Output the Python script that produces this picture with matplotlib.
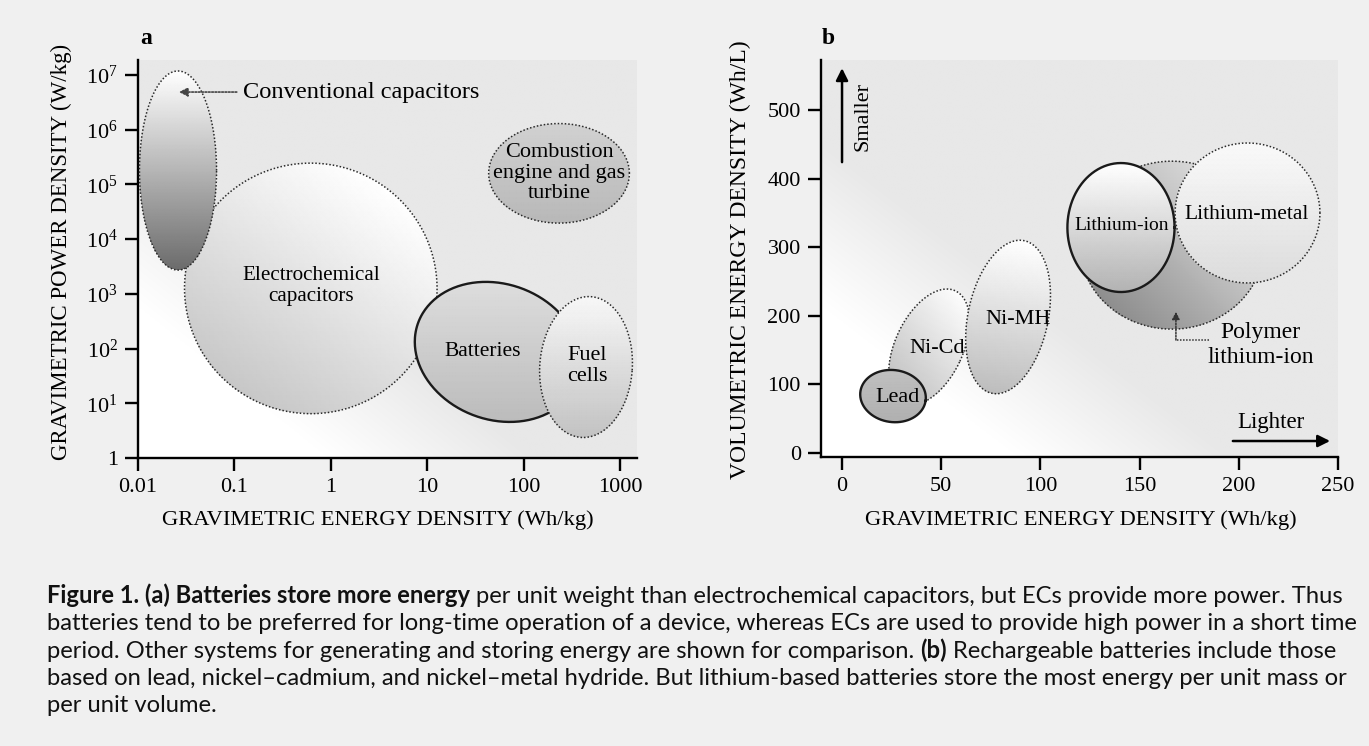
import numpy as np
import matplotlib
matplotlib.use("Agg")
import matplotlib.pyplot as plt
from matplotlib.patches import Polygon
from matplotlib.colors import LinearSegmentedColormap

W, H = 1369, 746
SERIF = ["Liberation Serif", "DejaVu Serif"]
SANS = ["Lato", "DejaVu Sans"]

# ---------------- (a) Ragone plot ----------------
# region centre (Wh/kg, W/kg), half spans in decades, tilt in degrees
a_names = ["Electrochemical\ncapacitors", "Conventional capacitors",
           "Combustion\nengine and gas\nturbine", "Batteries", "Fuel\ncells"]
a_energy = [0.62, 0.026, 233, 54, 444]
a_power = [1.26e3, 1.8e5, 1.6e5, 87, 46]
a_energy_span = [1.31, 0.40, 0.73, 0.88, 0.48]
a_power_span = [2.29, 1.82, 0.91, 1.24, 1.29]
a_tilt = [-4, 0, 0, -20, -4]
a_label_e = [0.62, 0.123, 233, 38, 455]
a_label_p = [1.38e3, 4.9e6, 1.62e5, 87, 48]

a_xticks = [0.01, 0.1, 1, 10, 100, 1000]
a_xticklabels = ["0.01", "0.1", "1", "10", "100", "1000"]
a_yticks = [1, 1e1, 1e2, 1e3, 1e4, 1e5, 1e6, 1e7]
a_yticklabels = ["1"] + [r"$\mathregular{10^{%d}}$" % k for k in range(1, 8)]

# ---------------- (b) rechargeable batteries ----------------
b_names = ["Ni-Cd", "Lead", "Ni-MH", "Polymer\nlithium-ion", "Lithium-metal", "Lithium-ion"]
b_mass = [43.9, 25.7, 83.7, 166.3, 204.4, 140.6]
b_volume = [154.5, 83, 198.3, 303, 349.9, 328.7]
b_mass_span = [17.1, 16.6, 20.2, 46.4, 36.5, 27]
b_volume_span = [90.4, 37.9, 113.7, 122.4, 102, 94]
b_tilt = [-25, -8, -12, 0, 0, 0]
b_label_x = [47.9, 28, 88.7, 211, 204, 141]
b_label_y = [153, 81.6, 194, 157.4, 347, 331]
b_xticks = [0, 50, 100, 150, 200, 250]
b_yticks = [0, 100, 200, 300, 400, 500]

# styles: (light grey, dark grey, direction of light side, edge, label size, line spacing)
a_style = [(1.0, 0.78, 55, ":", 15.2, 1.13), (1.0, 0.42, 90, ":", 17.6, 1.0),
           (0.84, 0.7, 90, ":", 16, 1.13), (0.88, 0.72, 90, "-", 15.5, 1.0),
           (0.97, 0.76, 90, ":", 16, 1.13)]
b_style = [(1.0, 0.74, 40, ":", 16, 1.0), (0.76, 0.68, 90, "-", 16, 1.0),
           (1.0, 0.74, 80, ":", 16, 1.0), (0.88, 0.55, 45, ":", 17, 1.3),
           (0.98, 0.86, 90, ":", 15.5, 1.0), (1.0, 0.7, 90, "-", 14, 1.0)]

BG = "#f0f0f0"
fig = plt.figure(figsize=(W / 100, H / 100), dpi=100, facecolor=BG)


def rect(l, b, r, t):
    return [l / W, 1 - b / H, (r - l) / W, (b - t) / H]


bg_cmap = LinearSegmentedColormap.from_list("bg", ["#ffffff", "#e8e8e8"])


def make_axes(r):
    back = fig.add_axes(r, zorder=0)
    u, v = np.meshgrid(np.linspace(0, 1, 300), np.linspace(0, 1, 300))
    s = np.clip((u + v - 0.38) / 0.42, 0, 1)
    back.imshow(s, cmap=bg_cmap, extent=(0, 1, 0, 1), origin="lower", aspect="auto",
                interpolation="bilinear", vmin=0, vmax=1)
    back.axis("off")
    ax = fig.add_axes(r, zorder=1)
    ax.set_facecolor("none")
    for sp in ["top", "right"]:
        ax.spines[sp].set_visible(False)
    for sp in ["left", "bottom"]:
        ax.spines[sp].set_linewidth(1.7)
    ax.tick_params(direction="out", length=9.5, width=1.7, labelsize=16, pad=5)
    ax.minorticks_off()
    return ax


def blob(ax, cx, cy, rx, ry, tilt, style, z, log=False):
    light, dark, face_dir, ls = style[:4]
    x0, x1 = ax.get_xlim()
    y0, y1 = ax.get_ylim()
    if log:
        x0, x1, y0, y1 = np.log10([x0, x1, y0, y1])
        cx, cy = np.log10(cx), np.log10(cy)
    pos = ax.get_position()
    kx = pos.width * W / (x1 - x0)
    ky = pos.height * H / (y1 - y0)
    a, b = rx * kx, ry * ky
    th = np.radians(tilt)
    t = np.linspace(0, 2 * np.pi, 300)
    px = a * np.cos(t) * np.cos(th) - b * np.sin(t) * np.sin(th)
    py = a * np.cos(t) * np.sin(th) + b * np.sin(t) * np.cos(th)

    def to_data(gx, gy):
        xx, yy = cx + gx / kx, cy + gy / ky
        return (10 ** xx, 10 ** yy) if log else (xx, yy)

    ex, ey = to_data(px, py)
    R = max(a, b)
    g = np.linspace(-R, R, 60)
    GX, GY = np.meshgrid(g, g)
    d = np.radians(face_dir)
    s = np.clip(((GX * np.cos(d) + GY * np.sin(d)) / R + 1) / 2, 0, 1)
    val = dark + (light - dark) * s
    MX, MY = to_data(GX, GY)
    shape = Polygon(np.column_stack([ex, ey]), closed=True, fc="none", ec="none")
    ax.add_patch(shape)
    mesh = ax.pcolormesh(MX, MY, val, cmap="gray", vmin=0, vmax=1, shading="gouraud", zorder=z)
    mesh.set_clip_path(shape)
    if ls == "-":
        ax.plot(ex, ey, color="#1a1a1a", lw=1.7, zorder=z + 0.1)
    else:
        ax.plot(ex, ey, color="#2a2a2a", lw=1.1, ls=(0, (1, 1.3)), zorder=z + 0.1)


plt.rcParams["font.family"] = SERIF

# ---------------- panel a ----------------
ax_a = make_axes(rect(138, 458, 637, 60))
ax_a.set_xscale("log")
ax_a.set_yscale("log")
ax_a.set_xlim(0.01, 1500)
ax_a.set_ylim(1, 10 ** 7.276)
ax_a.set_xticks(a_xticks)
ax_a.set_xticklabels(a_xticklabels)
ax_a.set_yticks(a_yticks)
ax_a.set_yticklabels(a_yticklabels)
ax_a.minorticks_off()

for i in range(len(a_names)):
    blob(ax_a, a_energy[i], a_power[i], a_energy_span[i], a_power_span[i], a_tilt[i],
         a_style[i], z=2 + i, log=True)
    if a_names[i] == "Conventional capacitors":
        ax_a.text(a_label_e[i], a_label_p[i], a_names[i], fontsize=a_style[i][4], ha="left",
                  va="center", zorder=20)
        ax_a.annotate("", xy=(a_energy[i] * 1.02, a_label_p[i]), xytext=(a_label_e[i] * 0.86, a_label_p[i]),
                      arrowprops=dict(arrowstyle="-|>", ls=(0, (1, 1)), color="#444444", lw=1.2,
                                      mutation_scale=13, shrinkA=0, shrinkB=0), zorder=20)
    else:
        ax_a.text(a_label_e[i], a_label_p[i], a_names[i], fontsize=a_style[i][4], ha="center",
                  va="center", linespacing=a_style[i][5], zorder=20)

ax_a.set_xlabel("GRAVIMETRIC ENERGY DENSITY (Wh/kg)", fontsize=16.2)
ax_a.set_ylabel("GRAVIMETRIC POWER DENSITY (W/kg)", fontsize=16.5)
ax_a.xaxis.set_label_coords((378 - 138) / 499, (458 - 510) / 398)
ax_a.yaxis.set_label_coords((72 - 138) / 499, (458 - 252) / 398)

# ---------------- panel b ----------------
ax_b = make_axes(rect(821, 457, 1338, 60))
ax_b.set_xlim(-10.6, 250)
ax_b.set_ylim(-5.8, 572.9)
ax_b.set_xticks(b_xticks)
ax_b.set_yticks(b_yticks)

for i in range(len(b_names)):
    blob(ax_b, b_mass[i], b_volume[i], b_mass_span[i], b_volume_span[i], b_tilt[i],
         b_style[i], z=2 + i)
    ax_b.text(b_label_x[i], b_label_y[i], b_names[i], fontsize=b_style[i][4], ha="center",
              va="center", linespacing=b_style[i][5], zorder=20)

# polymer lithium-ion pointer
ax_b.plot([185, 168.3], [164.7, 164.7], color="#333333", lw=1.1, ls=(0, (1, 1)), zorder=19)
ax_b.annotate("", xy=(168.3, 206), xytext=(168.3, 164.7),
              arrowprops=dict(arrowstyle="-|>", ls=(0, (1, 1)), color="#333333", lw=1.1,
                              mutation_scale=11, shrinkA=0, shrinkB=0), zorder=19)

# direction arrows
ax_b.annotate("", xy=(0, 561), xytext=(0, 424),
              arrowprops=dict(arrowstyle="-|>", color="black", lw=1.8, mutation_scale=18,
                              shrinkA=0, shrinkB=0), zorder=20)
ax_b.text(10.6, 490, "Smaller", rotation=90, fontsize=16, ha="center", va="center", zorder=20)
ax_b.annotate("", xy=(246, 17.5), xytext=(197, 17.5),
              arrowprops=dict(arrowstyle="-|>", color="black", lw=1.8, mutation_scale=18,
                              shrinkA=0, shrinkB=0), zorder=20)
ax_b.text(216, 44, "Lighter", fontsize=16.5, ha="center", va="center", zorder=20)

ax_b.set_xlabel("GRAVIMETRIC ENERGY DENSITY (Wh/kg)", fontsize=16.2)
ax_b.set_ylabel("VOLUMETRIC ENERGY DENSITY (Wh/L)", fontsize=17)
ax_b.xaxis.set_label_coords((1081 - 821) / 517, (457 - 510) / 397)
ax_b.yaxis.set_label_coords((751 - 821) / 517, (457 - 260) / 397)

fig.text(146 / W, 1 - 39 / H, "a", fontsize=17, fontweight="bold", ha="center", va="center")
fig.text(828 / W, 1 - 38 / H, "b", fontsize=17, fontweight="bold", ha="center", va="center")

# ---------------- caption ----------------
caption = [
    [("Figure 1. (a) Batteries store more energy", True),
     ("per unit weight than electrochemical capacitors, but ECs provide more power. Thus", False)],
    [("batteries tend to be preferred for long-time operation of a device, whereas ECs are used to provide high power in a short time", False)],
    [("period. Other systems for generating and storing energy are shown for comparison.", False),
     ("(b)", True), ("Rechargeable batteries include those", False)],
    [("based on lead, nickel\u2013cadmium, and nickel\u2013metal hydride. But lithium-based batteries store the most energy per unit mass or", False)],
    [("per unit volume.", False)],
]
baselines = [603, 630, 658, 685, 712]

renderer = fig.canvas.get_renderer()


def width_px(txt, size, bold):
    t = fig.text(0, 0, txt, fontsize=size, family=SANS, fontweight="bold" if bold else "normal")
    w = t.get_window_extent(renderer).width
    t.remove()
    return w


# fit the long second line to the printed width
cap_size = 16 * 1318 / width_px(caption[1][0][0], 16, False)
space = width_px("a a", cap_size, False) - width_px("aa", cap_size, False)

for line, yb in zip(caption, baselines):
    x = 47
    for j, (txt, bold) in enumerate(line):
        if j > 0:
            x += space
        fig.text(x / W, 1 - yb / H, txt, fontsize=cap_size, family=SANS,
                 fontweight="bold" if bold else "normal", va="baseline", ha="left", color="#111111")
        x += width_px(txt, cap_size, bold)

fig.savefig("out.png", dpi=100, facecolor=BG)
